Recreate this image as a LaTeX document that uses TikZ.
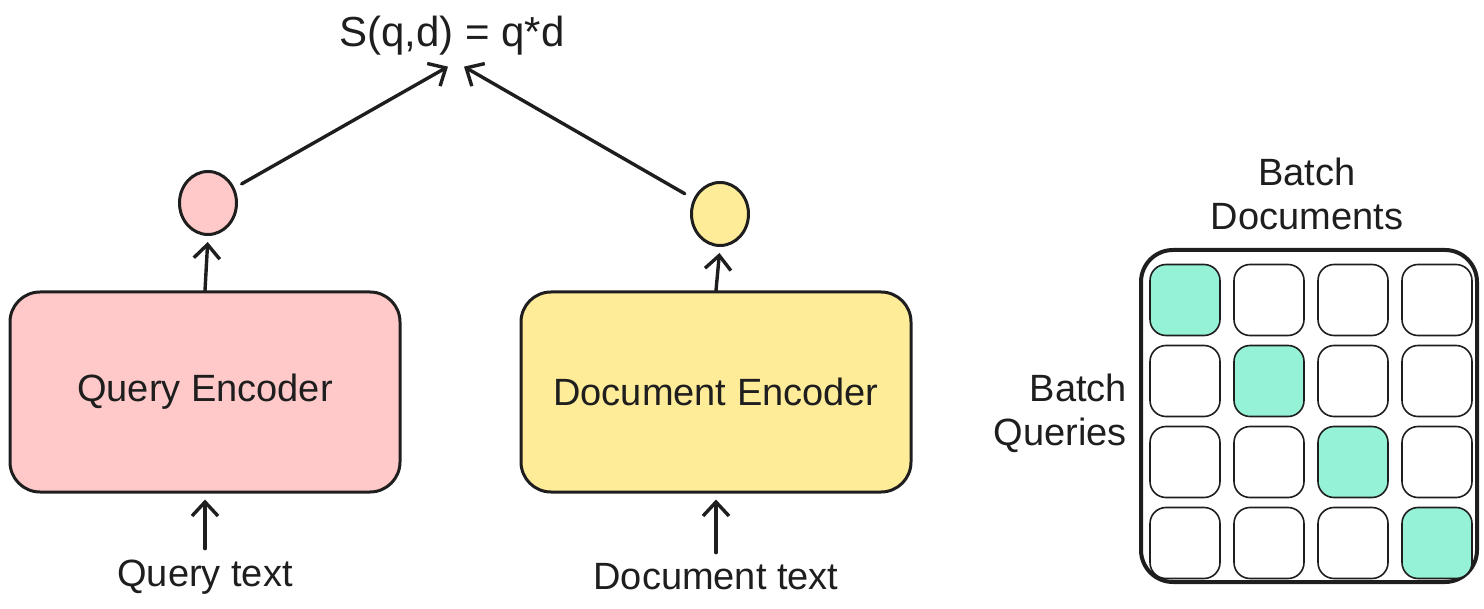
\documentclass[tikz,border=0pt]{standalone}
\usepackage{fontspec}
\setmainfont{Liberation Sans}
\usetikzlibrary{shapes.geometric,arrows.meta}
\definecolor{ink}{HTML}{1E1E1E}
\definecolor{qpink}{HTML}{FFC9C9}
\definecolor{dyellow}{HTML}{FFEC99}
\definecolor{hitgreen}{HTML}{96F2D7}
\tikzset{every node/.style={font=\fontsize{19}{22}\selectfont,text=ink},
  encbox/.style={draw=ink,line width=1.5pt,rounded corners=15pt,minimum width=195pt,minimum height=100pt},
  vecpt/.style={ellipse,draw=ink,line width=1.5pt,minimum width=28.5pt,minimum height=31.5pt,inner sep=0pt},
  cellbox/.style={draw=ink,line width=0.8pt,rounded corners=8pt,minimum width=35pt,minimum height=35.5pt,inner sep=0pt},
  flow/.style={draw=ink,line width=1.7pt,-{Straight Barb[length=7pt,width=13pt,line width=1.7pt]},line cap=round}}
\newcommand{\gridcell}[3][]{\node[cellbox,#1] at (#2) (#3) {}}

\begin{document}
\begin{tikzpicture}[x=0.5pt,y=-0.5pt]
  \useasboundingbox (0,0) rectangle (1484,609);

  \node[font=\fontsize{21}{24}\selectfont] (score) at (452,36) {S(q,d) = q*d};
  \node[vecpt,fill=qpink] at (208,203) (qvec) {};
  \node[vecpt,fill=dyellow] at (720,214) (dvec) {};
  \node[encbox,fill=qpink] at (205,392) (qenc) {Query Encoder};
  \node[encbox,fill=dyellow] at (716,392) (denc) {Document Encoder};
  \node (qtext) at (205,577) {Query text};
  \node (dtext) at (716,577) {Document text};

  \draw[flow,shorten <=2pt,shorten >=3pt] (qtext.north) -- (qenc.south);
  \draw[flow,shorten <=2pt,shorten >=3pt] (dtext.north) -- (denc.south);
  \draw[flow,shorten >=3pt] (qenc.north) -- (qvec.south);
  \draw[flow,shorten >=3pt] (denc.north) -- (dvec.south);
  \draw[flow,shorten <=4pt] (qvec) -- ([xshift=-2pt,yshift=-2pt]score.south);
  \draw[flow,shorten <=5pt] (dvec) -- ([xshift=6pt,yshift=-2pt]score.south);

  % in-batch similarity grid
  \node[draw=ink,line width=2pt,rounded corners=16pt,minimum width=168pt,minimum height=166pt] at (1309,416) (batch) {};
  \node[align=center] at (1307,194) (doclabel) {Batch\\Documents};
  \node[align=right,anchor=east] at (1134,413) (qlabel) {Batch\\Queries};

  \gridcell[fill=hitgreen]{1185,300}{c11};
  \gridcell{1269,300}{c12};
  \gridcell{1353,300}{c13};
  \gridcell{1437,300}{c14};
  \gridcell{1185,381}{c21};
  \gridcell[fill=hitgreen]{1269,381}{c22};
  \gridcell{1353,381}{c23};
  \gridcell{1437,381}{c24};
  \gridcell{1185,462}{c31};
  \gridcell{1269,462}{c32};
  \gridcell[fill=hitgreen]{1353,462}{c33};
  \gridcell{1437,462}{c34};
  \gridcell{1185,543}{c41};
  \gridcell{1269,543}{c42};
  \gridcell{1353,543}{c43};
  \gridcell[fill=hitgreen]{1437,543}{c44};
\end{tikzpicture}
\end{document}
